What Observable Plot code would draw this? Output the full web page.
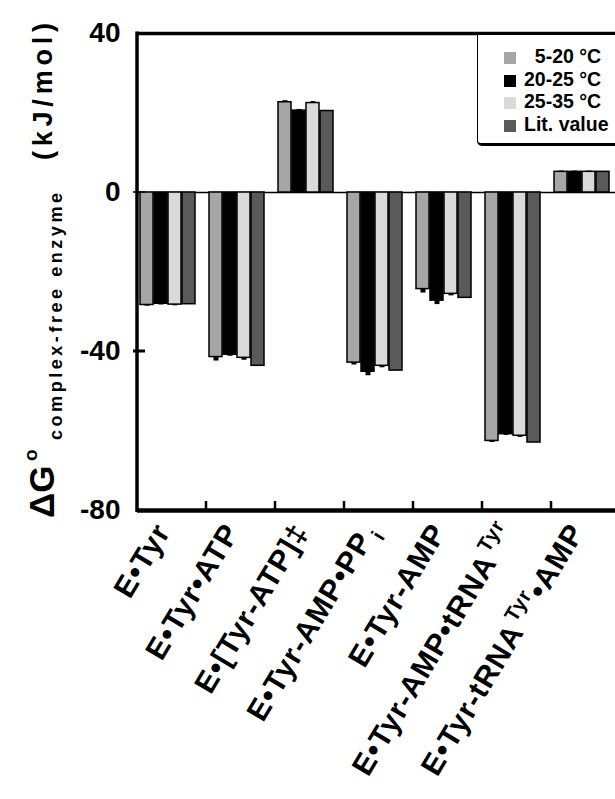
<!DOCTYPE html>
<html><head><meta charset="utf-8">
<script src="https://cdn.jsdelivr.net/npm/d3@7"></script>
<script src="https://cdn.jsdelivr.net/npm/@observablehq/plot@0.6"></script>
<style>
body{margin:0;background:#fff;overflow:hidden;}
#wrap{position:relative;width:615px;height:799px;overflow:hidden;font-family:"Liberation Sans",Arial,sans-serif;}
#wrap svg{position:absolute;left:0;top:0;max-width:none !important;}
svg [aria-label="y-axis tick label"]{font-size:28px;font-weight:bold;font-family:"Liberation Sans",Arial,sans-serif;}
svg [aria-label="fx-axis tick label"]{font-size:30px;font-weight:bold;letter-spacing:1px;font-family:"Liberation Sans",Arial,sans-serif;}
#legend{position:absolute;left:477px;top:35px;width:160px;height:108px;background:#fff;border-left:1.5px solid #000;border-bottom:3.5px solid #000;border-bottom-left-radius:5px;}
.row{position:absolute;left:26px;height:22px;font-weight:bold;font-size:19.5px;line-height:22px;white-space:pre;}
.sw{display:inline-block;width:12px;height:12px;margin-right:8px;vertical-align:-1px;}
</style></head>
<body><div id="wrap"></div>
<script>
const categories = ["E•Tyr","E•Tyr•ATP","E•[Tyr-ATP]‡","E•Tyr-AMP•PP_{i}","E•Tyr-AMP","E•Tyr-AMP•tRNA^{Tyr}","E•Tyr-tRNA^{Tyr}•AMP"];
const series = ["5-20 °C","20-25 °C","25-35 °C","Lit. value"];
const colors = ["#a6a6a6","#000000","#dadada","#5a5a5a"];
const v5_20  = [-28.3,-41.4,22.7,-42.8,-24.3,-62.5,5.2];
const v20_25 = [-28.0,-40.8,20.6,-45.1,-27.2,-60.8,5.2];
const v25_35 = [-28.2,-41.6,22.5,-43.6,-25.5,-61.2,5.2];
const vLit   = [-28.1,-43.6,20.5,-44.8,-26.5,-62.9,5.2];
const e5_20  = [0.3,1.0,0.4,0.6,1.0,0.4,0.2];
const e20_25 = [0.3,0.4,0.3,1.0,1.0,0.3,0.2];
const e25_35 = [0.3,0.6,0.4,0.5,0.5,0.4,0.2];
const eLit   = [0,0,0,0,0,0,0];
const yTicks = [40,0,-40,-80];

const vals = [v5_20,v20_25,v25_35,vLit];
const errs = [e5_20,e20_25,e25_35,eLit];
const data = [];
categories.forEach((c,i)=>series.forEach((s,j)=>data.push({cat:c,s,v:vals[j][i],e:errs[j][i]})));

const plot = Plot.plot({
  width:625, height:799,
  marginLeft:136, marginRight:5, marginTop:33, marginBottom:289,
  style:{background:"white",fontFamily:"Liberation Sans, Arial, sans-serif",maxWidth:"none"},
  fx:{domain:categories,padding:0,label:null,tickRotate:-59,tickSize:0,tickPadding:6},
  x:{domain:series,paddingInner:0.1,paddingOuter:0.43,align:0.24,axis:null},
  y:{domain:[-80,40],ticks:yTicks,tickSize:0,tickPadding:17,tickFormat:d=>String(d),label:null},
  color:{domain:series,range:colors},
  marks:[
    Plot.ruleY([0],{stroke:"#000",strokeWidth:1.3}),
    Plot.ruleX(data.filter(d=>d.e>0),{fx:"cat",x:"s",y1:"v",y2:d=>d.v+Math.sign(d.v)*d.e,stroke:"#000",strokeWidth:5}),
    Plot.barY(data,{fx:"cat",x:"s",y:"v",fill:"s",stroke:"#000",strokeWidth:1.5}),
    Plot.ruleY([40],{stroke:"#000",strokeWidth:3.5}),
    Plot.ruleY([-80],{stroke:"#000",strokeWidth:4.5})
  ]
});

const svg = d3.select(plot);
const y = plot.scale("y"), fx = plot.scale("fx");
const x0 = fx.apply(categories[0]);
svg.append("line").attr("x1",x0).attr("x2",x0).attr("y1",y.apply(40)-1.5).attr("y2",y.apply(-80)+2).attr("stroke","#000").attr("stroke-width",3.5);
[0,-40].forEach(t=>svg.append("line").attr("x1",x0-4).attr("x2",x0+8).attr("y1",y.apply(t)).attr("y2",y.apply(t)).attr("stroke","#000").attr("stroke-width",t===0?1.5:3));
categories.slice(1).forEach(c=>{
  const xx = fx.apply(c);
  svg.append("line").attr("x1",xx).attr("x2",xx).attr("y1",y.apply(-80)).attr("y2",y.apply(-80)-9).attr("stroke","#000").attr("stroke-width",2.5);
});

function richify(el, base){
  const t = el.textContent;
  if(!/[\^_]\{/.test(t)) return;
  const sel = d3.select(el); sel.text(null);
  const parts = t.split(/(\^\{[^}]*\}|_\{[^}]*\})/).filter(p=>p);
  let off = 0;
  parts.forEach(p=>{
    let m;
    if((m=p.match(/^\^\{(.*)\}$/))){
      sel.append("tspan").attr("dy",-base*0.42-off).attr("font-size",base*0.68).attr("dx",3).text(m[1]); off=-base*0.42;
    } else if((m=p.match(/^_\{(.*)\}$/))){
      sel.append("tspan").attr("dy",base*0.3-off).attr("font-size",base*0.68).attr("dx",3).text(m[1]); off=base*0.3;
    } else {
      sel.append("tspan").attr("dy",-off).text(p); off=0;
    }
  });
}
const fxg = svg.select('[aria-label="fx-axis tick label"]');
fxg.selectAll("text").each(function(){richify(this,30);});
fxg.attr("transform", (fxg.attr("transform")||"") + " translate(-9,10)");

const ff = "Liberation Sans, Arial, sans-serif";
function vtext(x, yy, size, str, len){
  const t = svg.append("text").attr("transform",`translate(${x},${yy}) rotate(-90)`)
    .attr("text-anchor","start")
    .attr("font-family",ff).attr("font-weight","bold").attr("font-size",size).attr("fill","#000").text(str);
  if(len){ t.attr("textLength",len).attr("lengthAdjust","spacing"); }
  return t;
}
vtext(54,518,35,"ΔG",null);
vtext(37,461,19,"o",null);
vtext(62,440,18,"complex-free enzyme",247);
vtext(52,160,27,"(kJ/mol)",137);

const wrap = document.getElementById("wrap");
wrap.appendChild(plot);

const lg = document.createElement("div"); lg.id="legend";
series.forEach((s,i)=>{
  const r = document.createElement("div"); r.className="row"; r.style.top=(10+i*22.5)+"px";
  const sw = document.createElement("span"); sw.className="sw"; sw.style.background=colors[i];
  r.appendChild(sw);
  r.appendChild(document.createTextNode((i===0?"  ":"")+s));
  lg.appendChild(r);
});
wrap.appendChild(lg);
</script></body></html>
